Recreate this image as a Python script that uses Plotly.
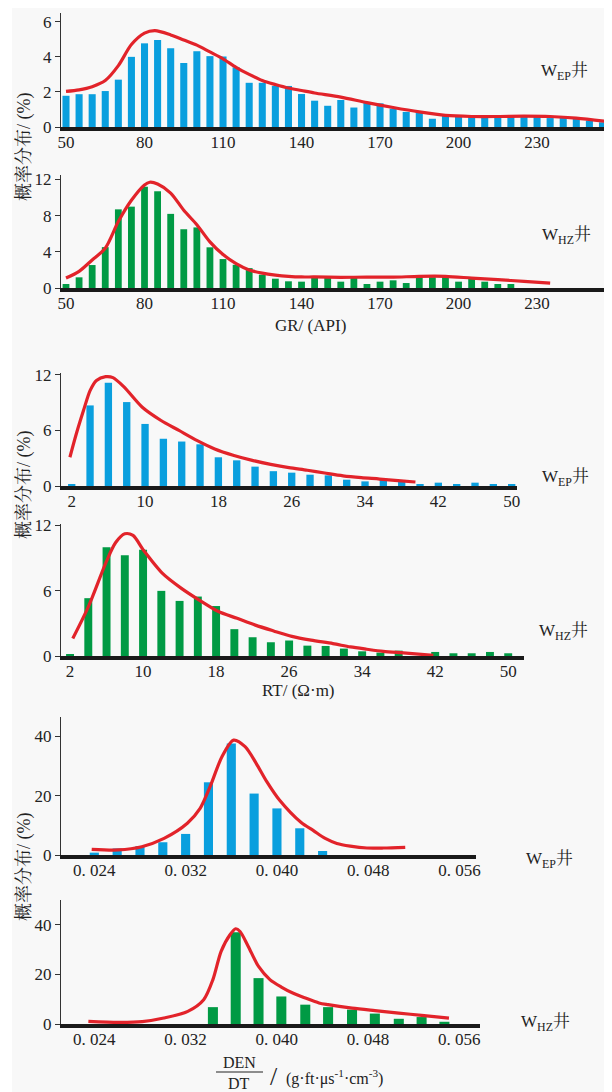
import plotly.graph_objects as go

W, H = 612, 1092
OFF = 8  # page body margin in the browser

# ---------------- data ----------------
gr_bins = [50, 55, 60, 65, 70, 75, 80, 85, 90, 95, 100, 105, 110, 115, 120, 125, 130, 135, 140, 145,
           150, 155, 160, 165, 170, 175, 180, 185, 190, 195, 200, 205, 210, 215, 220, 225, 230, 235,
           240, 245, 250, 255]
gr_ep_vals = [1.78, 1.87, 1.87, 2.05, 2.7, 4.0, 4.77, 4.96, 4.49, 3.65, 4.32, 4.04, 4.02, 3.4, 2.52,
              2.52, 2.34, 2.34, 1.88, 1.5, 1.21, 1.54, 1.11, 1.43, 1.35, 1.05, 0.86, 0.86, 0.47, 0.66,
              0.62, 0.59, 0.59, 0.59, 0.62, 0.59, 0.59, 0.51, 0.55, 0.47, 0.37, 0.27]
gr_ep_curve_x = [50, 55, 60, 65, 70, 75, 80, 84, 90, 95, 100, 105, 110, 115, 120, 125, 130, 135, 140,
                 145, 155, 165, 175, 185, 195, 205, 215, 225, 235, 245, 256]
gr_ep_curve_y = [2.03, 2.12, 2.3, 2.65, 3.5, 4.7, 5.35, 5.49, 5.25, 4.96, 4.67, 4.28, 3.89, 3.4, 3.0,
                 2.65, 2.42, 2.22, 2.08, 1.94, 1.7, 1.39, 1.11, 0.86, 0.66, 0.6, 0.6, 0.62, 0.6, 0.51, 0.33]

gr_hz_bins = gr_bins[:35]
gr_hz_vals = [0.44, 1.18, 2.54, 4.52, 8.7, 9.0, 11.2, 10.7, 8.2, 6.5, 6.7, 4.5, 3.2, 2.57, 2.2, 1.47,
              1.03, 0.74, 0.7, 1.2, 1.2, 0.7, 1.3, 0.44, 0.7, 0.85, 0.55, 1.3, 1.2, 1.3, 0.7, 1.03,
              0.7, 0.44, 0.44]
gr_hz_curve_x = [50, 55, 60, 65, 70, 75, 80, 82, 85, 90, 95, 100, 105, 110, 115, 120, 125, 130, 135,
                 140, 145, 155, 165, 175, 185, 195, 205, 215, 225, 235]
gr_hz_curve_y = [1.1, 1.84, 3.1, 4.4, 7.35, 9.7, 11.4, 11.7, 11.5, 10.5, 8.6, 7.0, 5.1, 3.7, 2.7, 2.0,
                 1.65, 1.43, 1.29, 1.22, 1.22, 1.18, 1.2, 1.2, 1.29, 1.29, 1.1, 0.92, 0.74, 0.55]

rt_bins = [2, 4, 6, 8, 10, 12, 14, 16, 18, 20, 22, 24, 26, 28, 30, 32, 34, 36, 38, 40, 42, 44, 46, 48, 50]
rt_ep_vals = [0.15, 8.7, 11.15, 9.06, 6.7, 5.1, 4.8, 4.5, 3.1, 2.77, 2.09, 1.6, 1.44, 1.22, 1.15, 0.68,
              0.5, 0.72, 0.43, 0.2, 0.36, 0.18, 0.36, 0.18, 0.18]
rt_ep_curve_x = [1.8, 2.55, 3.3, 4.0, 4.7, 5.7, 6.5, 7.7, 9.7, 11.7, 13.7, 15.7, 17.6, 19.7, 21.7, 23.7,
                 25.7, 27.7, 29.6, 31.6, 33.6, 35.6, 37.6, 39.5]
rt_ep_curve_y = [3.1, 5.8, 8.2, 10.3, 11.4, 11.8, 11.7, 10.7, 8.5, 7.1, 6.0, 4.9, 4.0, 3.3, 2.77, 2.34,
                 1.98, 1.7, 1.4, 1.1, 0.9, 0.75, 0.58, 0.43]

rt_hz_vals = [0.12, 5.3, 9.97, 9.23, 9.75, 5.97, 5.05, 5.45, 4.58, 2.46, 1.72, 1.26, 1.42, 0.95, 0.92,
              0.68, 0.43, 0.31, 0.49, 0.0, 0.37, 0.25, 0.25, 0.37, 0.25]
rt_hz_curve_x = [2.3, 4.0, 6.0, 7.0, 8.0, 8.9, 10.0, 12.1, 14.2, 16.2, 18.2, 20.3, 22.3, 24.3, 26.3,
                 28.4, 30.8, 32.7, 34.5, 36.3, 38.5, 41.8]
rt_hz_curve_y = [1.6, 4.5, 8.7, 10.4, 11.2, 11.05, 9.75, 7.6, 6.2, 5.1, 4.1, 3.45, 2.83, 2.3, 1.8,
                 1.45, 1.14, 0.83, 0.62, 0.43, 0.28, 0.06]

den_ep_bins = [0.024, 0.026, 0.028, 0.030, 0.032, 0.034, 0.036, 0.038, 0.040, 0.042, 0.044]
den_ep_vals = [0.8, 2.2, 3.0, 4.3, 7.1, 24.5, 37.6, 20.7, 15.7, 9.0, 1.35]
den_ep_curve_x = [0.02377, 0.0261, 0.02816, 0.03011, 0.03215, 0.03327, 0.03414, 0.03517, 0.0362,
                  0.03721, 0.03818, 0.03911, 0.04022, 0.0421, 0.0432, 0.04423, 0.04525, 0.04642,
                  0.04788, 0.04934, 0.05124]
den_ep_curve_y = [1.9, 1.7, 2.8, 5.6, 10.7, 15.7, 23, 33, 38.7, 36.5, 30.9, 24.7, 18.5, 11.0, 8.2,
                  5.6, 3.9, 3.0, 2.36, 2.36, 2.6]

den_hz_bins = [0.0344, 0.0364, 0.0384, 0.0404, 0.0425, 0.0445, 0.0466, 0.0486, 0.0507, 0.0527, 0.0547]
den_hz_vals = [6.8, 37.0, 18.5, 11.1, 7.8, 6.8, 5.8, 4.2, 2.1, 2.8, 0.9]
den_hz_curve_x = [0.02348, 0.0261, 0.0282, 0.0301, 0.0322, 0.03359, 0.0344, 0.03512, 0.0359, 0.0364,
                  0.03678, 0.0375, 0.0384, 0.0394, 0.0404, 0.0414, 0.0425, 0.0437, 0.0445, 0.0466,
                  0.0486, 0.0507, 0.0527, 0.0551]
den_hz_curve_y = [1.07, 0.67, 0.94, 2.4, 5.1, 9.8, 17.9, 29.3, 36, 38.4, 37.3, 31.3, 23.2, 17.9, 14.9,
                  12.5, 10.5, 8.5, 7.8, 6.4, 5.4, 4.4, 3.5, 2.4]

gr_ticks = [50, 80, 110, 140, 170, 200, 230]
rt_ticks = [2, 10, 18, 26, 34, 42, 50]
den_ticks = [0.024, 0.032, 0.040, 0.048, 0.056]
den_tick_text = ["0. 024", "0. 032", "0. 040", "0. 048", "0. 056"]

# ---------------- style ----------------
BLUE = "#0a9fde"
GREEN = "#009a44"
RED = "#e2232a"
FONT = "Liberation Serif, Noto Serif CJK SC, Noto Sans CJK SC, serif"
TXT = "#222"


def fx(p):
    return (p - OFF) / W


def fy(p):
    return min(1.0, 1 - (p - OFF) / H)


panels = [
    dict(bins=gr_bins, vals=gr_ep_vals, cx=gr_ep_curve_x, cy=gr_ep_curve_y, color=BLUE, bw=2.7,
         xd=(61, 605), yd=(13, 127), xr=(48.09, 255.96), yr=(0, 6.5),
         tv=gr_ticks, tt=[str(t) for t in gr_ticks], ytv=[0, 2, 4, 6]),
    dict(bins=gr_hz_bins, vals=gr_hz_vals, cx=gr_hz_curve_x, cy=gr_hz_curve_y, color=GREEN, bw=2.6,
         xd=(61, 605), yd=(175, 288), xr=(48.09, 255.96), yr=(0, 12.5),
         tv=gr_ticks, tt=[str(t) for t in gr_ticks], ytv=[0, 4, 8, 12]),
    dict(bins=rt_bins, vals=rt_ep_vals, cx=rt_ep_curve_x, cy=rt_ep_curve_y, color=BLUE, bw=0.8,
         xd=(61, 517), yd=(373, 486), xr=(0.83, 50.58), yr=(0, 12.2),
         tv=rt_ticks, tt=[str(t) for t in rt_ticks], ytv=[0, 6, 12]),
    dict(bins=rt_bins, vals=rt_hz_vals, cx=rt_hz_curve_x, cy=rt_hz_curve_y, color=GREEN, bw=0.87,
         xd=(61, 524), yd=(524, 656), xr=(1.01, 51.73), yr=(0, 12.1),
         tv=rt_ticks, tt=[str(t) for t in rt_ticks], ytv=[0, 6, 12]),
    dict(bins=den_ep_bins, vals=den_ep_vals, cx=den_ep_curve_x, cy=den_ep_curve_y, color=BLUE, bw=0.0008,
         xd=(61, 476), yd=(717, 855), xr=(0.02108, 0.05744), yr=(0, 46.5),
         tv=den_ticks, tt=den_tick_text, ytv=[0, 20, 40]),
    dict(bins=den_hz_bins, vals=den_hz_vals, cx=den_hz_curve_x, cy=den_hz_curve_y, color=GREEN, bw=0.00088,
         xd=(61, 480), yd=(900, 1024), xr=(0.02108, 0.05782), yr=(0, 50),
         tv=den_ticks, tt=den_tick_text, ytv=[0, 20, 40]),
]

fig = go.Figure()
layout = dict(
    template="none",
    width=W, height=H,
    margin=dict(l=0, r=0, t=0, b=0, pad=0),
    paper_bgcolor="white",
    plot_bgcolor="rgba(0,0,0,0)",
    showlegend=False,
    font=dict(family=FONT, size=17, color=TXT),
)

for i, p in enumerate(panels, start=1):
    xa = "x" if i == 1 else f"x{i}"
    ya = "y" if i == 1 else f"y{i}"
    fig.add_trace(go.Bar(x=p["bins"], y=p["vals"], width=p["bw"], marker=dict(color=p["color"], line=dict(width=0)),
                         xaxis=xa, yaxis=ya))
    fig.add_trace(go.Scatter(x=p["cx"], y=p["cy"], mode="lines",
                             line=dict(color=RED, width=3.2, shape="spline", smoothing=0.8),
                             xaxis=xa, yaxis=ya))
    layout[f"xaxis{'' if i == 1 else i}"] = dict(
        domain=[fx(p["xd"][0]), fx(p["xd"][1])], range=list(p["xr"]), anchor=ya, automargin=False,
        showgrid=False, zeroline=False, showline=True, linecolor="#1a1a1a", linewidth=3.5,
        tickmode="array", tickvals=p["tv"], ticktext=p["tt"], ticks="", ticklabelstandoff=-3,
        tickfont=dict(family=FONT, size=17, color=TXT), fixedrange=True)
    layout[f"yaxis{'' if i == 1 else i}"] = dict(
        domain=[fy(p["yd"][1]), fy(p["yd"][0])], range=list(p["yr"]), anchor=xa, automargin=False,
        showgrid=False, zeroline=False, showline=True, linecolor="#333", linewidth=1.2,
        tickmode="array", tickvals=p["ytv"], ticks="outside", ticklen=5, tickcolor="#333", tickwidth=1,
        tickfont=dict(family=FONT, size=17, color=TXT), fixedrange=True)

fig.update_layout(**layout)

# background panel
fig.add_shape(type="rect", xref="paper", yref="paper", x0=fx(12), x1=1, y0=0, y1=1,
              fillcolor="#f8f8f8", line=dict(width=0), layer="below")


def note(text, x, y, size=17, angle=0, xanchor="center"):
    return dict(text=text, x=fx(x), y=fy(y), xref="paper", yref="paper", showarrow=False,
                xanchor=xanchor, yanchor="middle", textangle=angle,
                font=dict(family=FONT, size=size, color=TXT))


ann = []
# y-axis titles
for cy in (147, 485, 867):
    ann.append(note("概率分布/ (%)", 24, cy, size=18, angle=-90))
# well labels
wells = [("W<sub>EP</sub>井", 564, 72), ("W<sub>HZ</sub>井", 566, 236), ("W<sub>EP</sub>井", 565, 478),
         ("W<sub>HZ</sub>井", 563, 632), ("W<sub>EP</sub>井", 549, 860), ("W<sub>HZ</sub>井", 545, 1023)]
for t, x, y in wells:
    ann.append(note(t, x, y))
# x titles
ann.append(note("GR/ (API)", 310, 325))
ann.append(note("RT/ (Ω·m)", 298, 690))
ann.append(note("DEN", 239, 1062, size=16))
ann.append(note("DT", 239, 1083, size=16))
ann.append(note("/", 274, 1076, size=26))
ann.append(note("(g·ft·μs<sup>-1</sup>·cm<sup>-3</sup>)", 284, 1077, size=16, xanchor="left"))
fig.update_layout(annotations=ann)
fig.add_shape(type="line", xref="paper", yref="paper", x0=fx(216), x1=fx(263), y0=fy(1072), y1=fy(1072),
              line=dict(color=TXT, width=1.2))

fig.write_html("out.html")
